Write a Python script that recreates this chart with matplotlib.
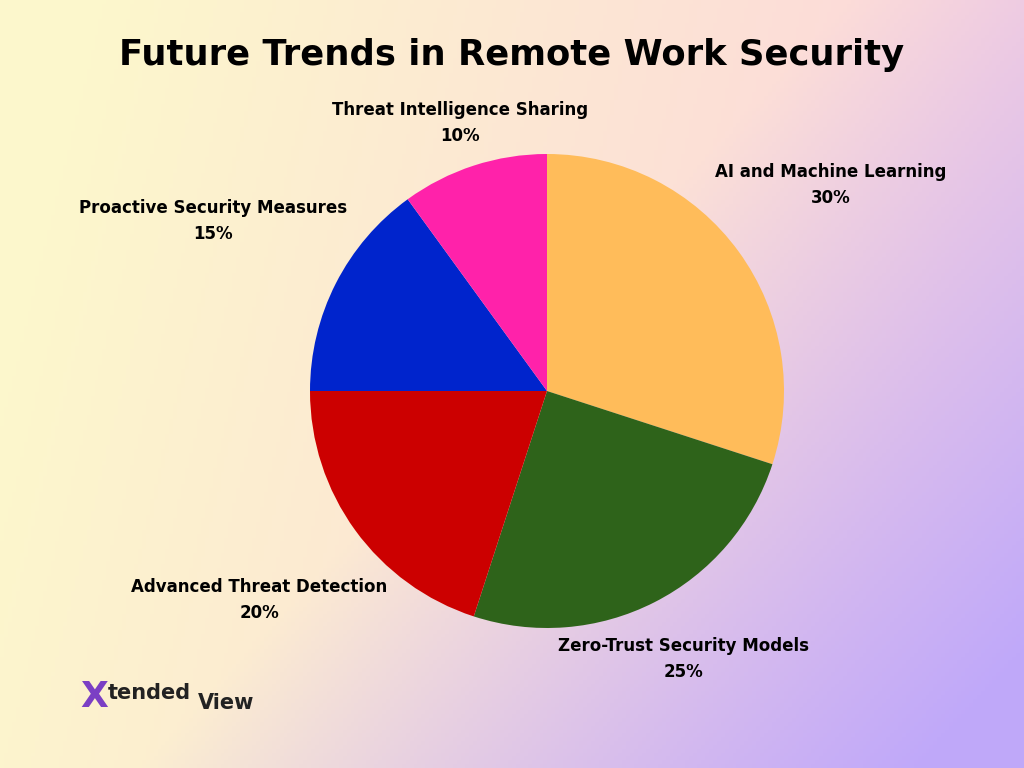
import numpy as np
import matplotlib
matplotlib.use('Agg')
import matplotlib.pyplot as plt

categories = ['AI and Machine Learning', 'Zero-Trust Security Models', 'Advanced Threat Detection',
              'Proactive Security Measures', 'Threat Intelligence Sharing']
shares = [30, 25, 20, 15, 10]
colors = ['#ffbc5a', '#2e631a', '#cc0000', '#0024cc', '#ff22aa']
label_dist = [1.48, 1.27, 1.5, 1.58, 1.19]

fig = plt.figure(figsize=(10.24, 7.68), dpi=100)

# background gradient: yellow (left) -> pink (middle) -> lavender (bottom right)
bg = fig.add_axes([0, 0, 1, 1])
h, w = 200, 260
yy, xx = np.mgrid[0:1:h * 1j, 0:1:w * 1j]
c_left = np.array([0.99, 0.97, 0.80])
c_pink = np.array([0.99, 0.84, 0.86])
c_lav = np.array([0.75, 0.66, 0.98])
t = np.clip(xx * 1.1 + yy * 0.2 - 0.1, 0, 1)[..., None]
mid = c_left * (1 - t) + c_pink * t
s = np.clip((xx - 0.55) * 1.3 + (yy - 0.4) * 0.9, 0, 1)[..., None]
img = mid * (1 - s) + c_lav * s
bg.imshow(img, aspect='auto', extent=[0, 1, 0, 1], origin='upper')
bg.axis('off')

fig.text(0.5, 0.928, 'Future Trends in Remote Work Security', ha='center', va='center',
         fontsize=25.5, fontweight='bold', color='black')

cx, cy, r = 547, 391, 237
ax = fig.add_axes([(cx - r) / 1024, (768 - cy - r) / 768, 2 * r / 1024, 2 * r / 768])
wedges, _ = ax.pie(shares, colors=colors, startangle=90, counterclock=False, radius=1)
ax.set_xlim(-1, 1)
ax.set_ylim(-1, 1)
ax.axis('off')

angle = 90
for name, val, d in zip(categories, shares, label_dist):
    m = np.deg2rad(angle - val * 3.6 / 2)
    angle -= val * 3.6
    ax.text(d * np.cos(m), d * np.sin(m), f'{name}\n{val}%', ha='center', va='center',
            fontsize=12, fontweight='bold', linespacing=1.6, clip_on=False)

# logo
fig.text(0.078, 0.092, 'X', fontsize=26, fontweight='bold', color='#7b3fc4', va='center')
fig.text(0.105, 0.098, 'tended', fontsize=15, fontweight='bold', color='#222222', va='center')
fig.text(0.193, 0.085, 'View', fontsize=15, fontweight='bold', color='#222222', va='center')

fig.savefig('out.png', dpi=100)
